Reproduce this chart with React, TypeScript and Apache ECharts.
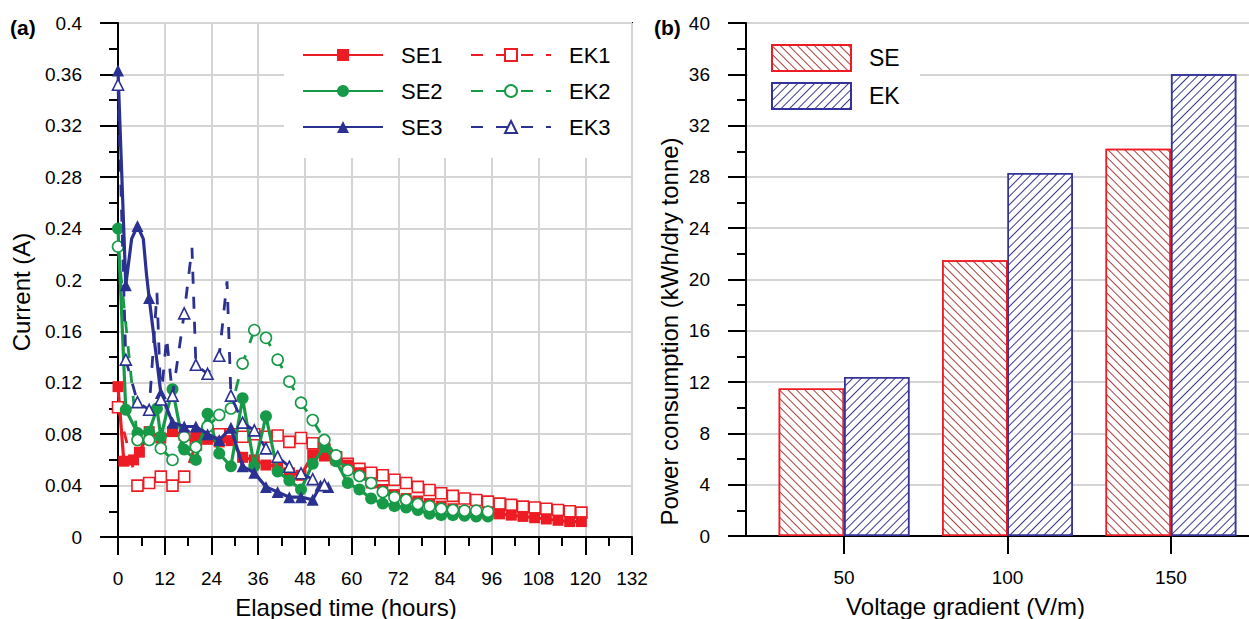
import React, { useEffect, useRef } from "react";
import * as echarts from "echarts";

// ---------- Data: panel (a) current vs elapsed time ----------
const timeTicks = [0, 12, 24, 36, 48, 60, 72, 84, 96, 108, 120, 132];

const se1: [number, number][] = [
  [0, 0.117], [1.5, 0.059], [4, 0.06], [5.5, 0.066], [8, 0.082], [11, 0.077], [14, 0.082],
  [17, 0.079], [20, 0.078], [23, 0.076], [26, 0.074], [29, 0.075], [32, 0.062], [35, 0.06],
  [38, 0.056], [41, 0.055], [44, 0.05], [47, 0.048], [50, 0.064], [53, 0.063], [56, 0.06],
  [59, 0.056], [62, 0.05], [65, 0.042], [68, 0.037], [71, 0.033], [74, 0.03], [77, 0.028],
  [80, 0.026], [83, 0.024], [86, 0.022], [89, 0.02], [92, 0.019], [95, 0.018], [98, 0.018],
  [101, 0.017], [104, 0.016], [107, 0.015], [110, 0.014], [113, 0.013], [116, 0.012], [119, 0.012],
];
const ek1: [number, number][] = [
  [0, 0.101], [5, 0.04], [8, 0.042], [11, 0.047], [14, 0.04], [17, 0.047], [20, 0.072],
  [23, 0.082], [26, 0.08], [29, 0.08], [32, 0.078], [35, 0.08], [38, 0.078], [41, 0.079],
  [44, 0.074], [47, 0.077], [50, 0.073], [53, 0.068], [56, 0.062], [59, 0.057], [62, 0.053],
  [65, 0.05], [68, 0.048], [71, 0.0445], [74, 0.042], [77, 0.039], [80, 0.0366], [83, 0.034],
  [86, 0.032], [89, 0.03], [92, 0.0288], [95, 0.0275], [98, 0.026], [101, 0.025], [104, 0.0236],
  [107, 0.023], [110, 0.022], [113, 0.021], [116, 0.02], [119, 0.019],
];
const se2: [number, number][] = [
  [0, 0.24], [2, 0.099], [5, 0.081], [8, 0.082], [10, 0.1], [11, 0.078], [14, 0.115],
  [17, 0.068], [20, 0.06], [23, 0.096], [26, 0.065], [29, 0.055], [32, 0.108], [35, 0.055],
  [38, 0.094], [41, 0.051], [44, 0.044], [47, 0.037], [50, 0.057], [53, 0.07], [56, 0.059],
  [59, 0.042], [62, 0.037], [65, 0.03], [68, 0.026], [71, 0.024], [74, 0.023], [77, 0.021],
  [80, 0.018], [83, 0.017], [86, 0.017], [89, 0.0165], [92, 0.016], [95, 0.016],
];
const ek2: [number, number][] = [
  [0, 0.226], [5, 0.0755], [8, 0.0755], [11, 0.069], [14, 0.06], [17, 0.078], [20, 0.07],
  [23, 0.086], [26, 0.095], [29, 0.1], [32, 0.135], [35, 0.161], [38, 0.155], [41, 0.138],
  [44, 0.121], [47, 0.1045], [50, 0.091], [53, 0.0755], [56, 0.0635], [59, 0.052], [62, 0.0475],
  [65, 0.042], [68, 0.035], [71, 0.031], [74, 0.029], [77, 0.0257], [80, 0.024], [83, 0.022],
  [86, 0.021], [89, 0.0205], [92, 0.0205], [95, 0.0197],
];
const se3: [number, number][] = [
  [0, 0.363], [2, 0.196], [5, 0.242], [8, 0.186], [11, 0.112], [14, 0.089], [17, 0.086],
  [20, 0.086], [23, 0.08], [26, 0.0755], [29, 0.085], [32, 0.055], [35, 0.05], [38, 0.039],
  [41, 0.035], [44, 0.031], [47, 0.031], [50, 0.029], [52, 0.04], [54, 0.039],
];
const se3Between: [number, number][] = [[3.5, 0.232], [6.5, 0.232], [7.3, 0.205]];
const ek3: [number, number][] = [
  [0, 0.352], [2, 0.138], [5, 0.105], [8, 0.099], [11, 0.107], [14, 0.11], [17, 0.174],
  [20, 0.134], [23, 0.127], [26, 0.141], [29, 0.11], [32, 0.089], [35, 0.083], [38, 0.069],
  [41, 0.0625], [44, 0.0547], [47, 0.0496], [50, 0.045], [53, 0.0405],
];
const ek3Between: [number, number][] = [[10, 0.19], [12.5, 0.155], [19, 0.225], [28, 0.199]];

// ---------- Data: panel (b) power consumption ----------
const gradients = [50, 100, 150];
const seEnergy = [11.5, 21.5, 30.2];
const ekEnergy = [12.4, 28.3, 36.0];

const RED = "#ed1c24";
const GREEN = "#179a47";
const BLUE = "#2b3190";
const GRID_GREY = "#d4d4d4";
const FONT = "Liberation Sans, Arial, sans-serif";

function lineSeries(
  name: string,
  pts: [number, number][],
  between: [number, number][],
  color: string,
  symbol: string,
  filled: boolean,
  dashed: boolean,
  size: number,
  z: number
) {
  const data = [
    ...pts.map((p) => ({ value: p })),
    ...between.map((p) => ({ value: p, symbol: "none" })),
  ].sort((a, b) => a.value[0] - b.value[0]);
  return {
    type: "line",
    name,
    xAxisIndex: 0,
    yAxisIndex: 0,
    data,
    symbol,
    symbolSize: size,
    showAllSymbol: true,
    z,
    lineStyle: { color, width: dashed ? 2.8 : 3.2, type: dashed ? [12, 13] : "solid" },
    itemStyle: {
      color: filled ? color : "#fff",
      borderColor: color,
      borderWidth: filled ? 0 : 1.6,
    },
  };
}

const axisLine = { show: true, onZero: false, lineStyle: { color: "#000", width: 2 } };
const tickStyle = { color: "#000", width: 2 };
const labelStyle = { color: "#000", fontSize: 19, fontFamily: FONT };
const nameStyle = { color: "#000", fontSize: 24, fontFamily: FONT };

export default function App() {
  const ref = useRef<HTMLDivElement>(null);
  useEffect(() => {
    if (!ref.current) return;
    const chart = echarts.init(ref.current, null, { renderer: "svg" });
    const option: any = {
      animation: false,
      backgroundColor: "#fff",
      textStyle: { fontFamily: FONT },
      grid: [
        { left: 118, top: 23, width: 514, height: 514, outerBoundsMode: "none", containLabel: false, show: true, borderColor: "#000", borderWidth: 2, backgroundColor: "transparent" },
        { left: 746, top: 23, width: 523, height: 513, outerBoundsMode: "none", containLabel: false, show: true, borderColor: "#000", borderWidth: 2, backgroundColor: "transparent" },
      ],
      xAxis: [
        {
          type: "value",
          gridIndex: 0,
          min: timeTicks[0],
          max: timeTicks[timeTicks.length - 1],
          interval: 12,
          name: "Elapsed time (hours)",
          nameLocation: "middle",
          nameGap: 58,
          nameTextStyle: { ...nameStyle, padding: [0, 58, 0, 0] },
          axisLine,
          axisTick: { show: true, length: 18, lineStyle: tickStyle },
          minorTick: { show: true, splitNumber: 2, length: 9, lineStyle: tickStyle },
          axisLabel: { ...labelStyle, margin: 32 },
          splitLine: { show: true, lineStyle: { color: GRID_GREY, width: 2 } },
        },
        {
          type: "value",
          gridIndex: 1,
          min: 20,
          max: 180,
          name: "Voltage gradient (V/m)",
          nameLocation: "middle",
          nameGap: 58,
          nameTextStyle: { ...nameStyle, padding: [0, 84, 0, 0] },
          axisLine,
          axisTick: { show: true, length: 18, lineStyle: tickStyle, customValues: gradients },
          axisLabel: { ...labelStyle, margin: 32, customValues: gradients },
          splitLine: { show: false },
        },
      ],
      yAxis: [
        {
          type: "value",
          gridIndex: 0,
          min: 0,
          max: 0.4,
          interval: 0.04,
          name: "Current (A)",
          nameLocation: "middle",
          nameGap: 85,
          nameTextStyle: { ...nameStyle, padding: [0, 24, 0, 0] },
          axisLine,
          axisTick: { show: true, length: 18, lineStyle: tickStyle },
          minorTick: { show: true, splitNumber: 2, length: 9, lineStyle: tickStyle },
          axisLabel: { ...labelStyle, margin: 36, formatter: (v: number) => String(+v.toFixed(2)) },
          splitLine: { show: true, lineStyle: { color: GRID_GREY, width: 2 } },
        },
        {
          type: "value",
          gridIndex: 1,
          min: 0,
          max: 40,
          interval: 4,
          name: "Power consumption (kWh/dry tonne)",
          nameLocation: "middle",
          nameGap: 65,
          nameTextStyle: { ...nameStyle, padding: [0, 104, 0, 0] },
          axisLine,
          axisTick: { show: true, length: 18, lineStyle: tickStyle },
          minorTick: { show: true, splitNumber: 2, length: 9, lineStyle: tickStyle },
          axisLabel: { ...labelStyle, margin: 36 },
          splitLine: { show: true, lineStyle: { color: GRID_GREY, width: 2 } },
        },
      ],
      legend: [
        {
          data: ["SE1", "SE2", "SE3"],
          orient: "vertical",
          left: 302,
          top: 44,
          padding: 0,
          itemWidth: 80,
          itemHeight: 15,
          itemGap: 14,
          textStyle: { color: "#000", fontSize: 22, fontFamily: FONT, padding: [0, 0, 0, 13] },
        },
        {
          data: ["EK1", "EK2", "EK3"],
          orient: "vertical",
          left: 470,
          top: 44,
          padding: 0,
          itemWidth: 80,
          itemHeight: 15,
          itemGap: 14,
          textStyle: { color: "#000", fontSize: 22, fontFamily: FONT, padding: [0, 0, 0, 13] },
        },
        {
          data: ["SE", "EK"],
          orient: "vertical",
          left: 771,
          top: 44,
          padding: 0,
          icon: "rect",
          itemWidth: 79,
          itemHeight: 26,
          itemGap: 10,
          textStyle: { color: "#000", fontSize: 23, fontFamily: FONT, padding: [0, 0, 0, 13] },
        },
      ],
      graphic: [
        { type: "rect", z: 1, shape: { x: 284, y: 24, width: 347, height: 134 }, style: { fill: "#fff" } },
        { type: "rect", z: 1, shape: { x: 748, y: 24, width: 172, height: 96 }, style: { fill: "#fff" } },
        { type: "text", left: 10, top: 17, style: { text: "(a)", fontSize: 21, fontWeight: "bold", fontFamily: FONT, fill: "#000" } },
        { type: "text", left: 654, top: 17, style: { text: "(b)", fontSize: 21, fontWeight: "bold", fontFamily: FONT, fill: "#000" } },
      ],
      series: [
        lineSeries("EK1", ek1, [], RED, "rect", false, true, 11, 3),
        lineSeries("SE1", se1, [], RED, "rect", true, false, 11, 3),
        lineSeries("SE2", se2, [], GREEN, "circle", true, false, 12, 4),
        lineSeries("EK2", ek2, [], GREEN, "circle", false, true, 11, 4),
        lineSeries("SE3", se3, se3Between, BLUE, "triangle", true, false, 12, 5),
        lineSeries("EK3", ek3, ek3Between, BLUE, "triangle", false, true, 11, 5),
        {
          type: "bar",
          name: "SE",
          xAxisIndex: 1,
          yAxisIndex: 1,
          data: gradients.map((g, i) => [g - 10, seEnergy[i]]),
          barWidth: "100%",
          barGap: "-100%",
          itemStyle: {
            color: "#fff",
            borderColor: RED,
            borderWidth: 1.5,
            decal: {
              symbol: "rect",
              symbolSize: 1,
              dashArrayX: [1, 0],
              dashArrayY: [1, 5],
              rotation: Math.PI / 4,
              color: "#a8403c",
            },
          },
        },
        {
          type: "bar",
          name: "EK",
          xAxisIndex: 1,
          yAxisIndex: 1,
          data: gradients.map((g, i) => [g + 10, ekEnergy[i]]),
          barWidth: "100%",
          barGap: "-100%",
          itemStyle: {
            color: "#fff",
            borderColor: "#33339a",
            borderWidth: 1.5,
            decal: {
              symbol: "rect",
              symbolSize: 1,
              dashArrayX: [1, 0],
              dashArrayY: [1, 5],
              rotation: -Math.PI / 4,
              color: "#3a3a8c",
            },
          },
        },
      ],
    };
    chart.setOption(option);
    return () => chart.dispose();
  }, []);
  return (
    <div
      ref={ref}
      style={{ position: "fixed", left: 0, top: 0, width: 1249, height: 619, background: "#fff" }}
    />
  );
}
